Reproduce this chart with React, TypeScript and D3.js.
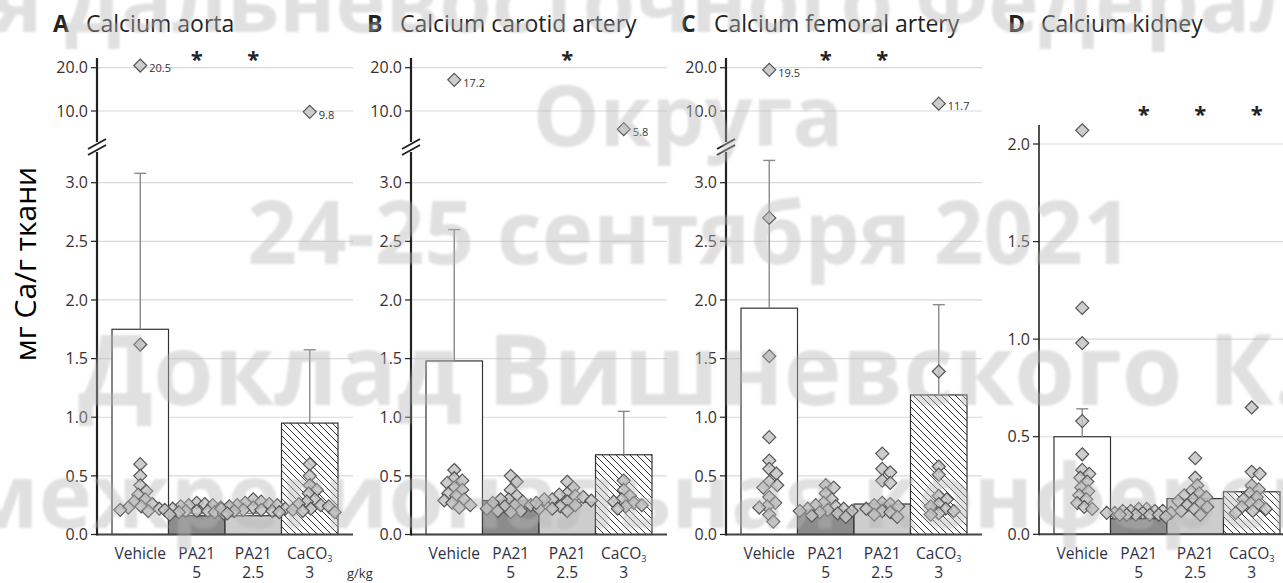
import React from "react";
import * as d3 from "d3";

// ---------- data ----------
const groups = ["Vehicle", "PA21 5", "PA21 2.5", "CaCO3 3"];
const groupLine1 = ["Vehicle", "PA21", "PA21", "CaCO"];
const groupLine2 = ["", "5", "2.5", "3"];
const panelLetters = ["A", "B", "C", "D"];
const panelTitles = ["Calcium aorta", "Calcium carotid artery", "Calcium femoral artery", "Calcium kidney"];
const lowerTicks = [0, 0.5, 1.0, 1.5, 2.0, 2.5, 3.0];
const upperTicks = [10, 20];
const kidneyTicks = [0, 0.5, 1.0, 1.5, 2.0];
const yLabel = "мг Ca/г ткани";
const unitLabel = "g/kg";
const watermarkLines = [
  "я дальневосточного Федерального",
  "Округа",
  "24-25 сентября 2021",
  "Доклад Вишневского К.",
  "межрегиональная конференция",
];

// A: aorta
const aortaMeans = [1.75, 0.16, 0.16, 0.95];
const aortaUpper = [3.08, 0.18, 0.18, 1.575];
const aortaSig = [false, true, true, false];
const aortaVehicle = [20.5, 1.62, 0.6, 0.5, 0.42, 0.37, 0.34, 0.3, 0.28, 0.26, 0.24, 0.23, 0.22, 0.21, 0.2];
const aortaPA5 = [0.27, 0.26, 0.25, 0.25, 0.24, 0.23, 0.22, 0.22, 0.21, 0.2, 0.2, 0.19, 0.19, 0.18, 0.17, 0.2];
const aortaPA25 = [0.3, 0.28, 0.27, 0.26, 0.25, 0.24, 0.23, 0.22, 0.22, 0.21, 0.2, 0.2, 0.19, 0.18, 0.25, 0.21];
const aortaCaCO3 = [9.8, 0.6, 0.5, 0.42, 0.38, 0.35, 0.3, 0.28, 0.26, 0.25, 0.24, 0.22, 0.21, 0.2, 0.19];

// B: carotid artery
const carotidMeans = [1.48, 0.29, 0.275, 0.68];
const carotidUpper = [2.6, 0.31, 0.3, 1.05];
const carotidSig = [false, false, true, false];
const carotidVehicle = [17.2, 0.55, 0.48, 0.46, 0.44, 0.4, 0.38, 0.35, 0.33, 0.3, 0.29, 0.27, 0.25, 0.23];
const carotidPA5 = [0.5, 0.45, 0.38, 0.33, 0.3, 0.3, 0.28, 0.27, 0.25, 0.25, 0.24, 0.22, 0.22, 0.2, 0.2, 0.19];
const carotidPA25 = [0.45, 0.4, 0.35, 0.34, 0.33, 0.32, 0.3, 0.3, 0.29, 0.28, 0.27, 0.25, 0.24, 0.22, 0.2];
const carotidCaCO3 = [5.8, 0.46, 0.38, 0.33, 0.3, 0.28, 0.27, 0.25, 0.24, 0.22];

// C: femoral artery
const femoralMeans = [1.93, 0.21, 0.26, 1.19];
const femoralUpper = [3.19, 0.23, 0.28, 1.96];
const femoralSig = [false, true, true, false];
const femoralVehicle = [19.5, 2.7, 1.52, 0.83, 0.63, 0.56, 0.52, 0.45, 0.42, 0.4, 0.32, 0.27, 0.24, 0.23, 0.17, 0.11];
const femoralPA5 = [0.42, 0.4, 0.35, 0.3, 0.27, 0.25, 0.24, 0.22, 0.22, 0.21, 0.2, 0.2, 0.19, 0.18, 0.16, 0.15];
const femoralPA25 = [0.69, 0.56, 0.53, 0.46, 0.44, 0.27, 0.26, 0.25, 0.24, 0.22, 0.2, 0.19, 0.17, 0.15];
const femoralCaCO3 = [11.7, 1.39, 0.58, 0.51, 0.33, 0.3, 0.26, 0.24, 0.22, 0.2, 0.18, 0.17];

// D: kidney
const kidneyMeans = [0.5, 0.08, 0.183, 0.218];
const kidneyUpper = [0.643, 0.09, 0.2, 0.24];
const kidneySig = [false, true, true, true];
const kidneyVehicle = [2.07, 1.16, 0.98, 0.58, 0.41, 0.33, 0.31, 0.29, 0.27, 0.24, 0.22, 0.2, 0.18, 0.16, 0.14, 0.13];
const kidneyPA5 = [0.13, 0.13, 0.12, 0.12, 0.12, 0.12, 0.11, 0.11, 0.11, 0.11, 0.1, 0.1, 0.1, 0.1, 0.1, 0.09];
const kidneyPA25 = [0.39, 0.29, 0.25, 0.22, 0.21, 0.2, 0.19, 0.18, 0.17, 0.16, 0.15, 0.14, 0.13, 0.12, 0.1];
const kidneyCaCO3 = [0.65, 0.32, 0.31, 0.25, 0.23, 0.21, 0.19, 0.18, 0.16, 0.15, 0.14, 0.13, 0.12, 0.11];

// ---------- layout ----------
const W = 1283;
const H = 583;
const FONT = "'Open Sans', 'DejaVu Sans', sans-serif";
const axisXs = [97, 411, 726, 1039];
const titleXs = [53, 367, 681, 1008];
const BREAK_LIMIT = 3.3;

const yLowerBroken = d3.scaleLinear().domain([0, 3]).range([534.5, 182.7]);
const yUpperBroken = d3.scaleLinear().domain([10, 20]).range([111, 67.7]);
const yKidney = d3.scaleLinear().domain([0, 2]).range([534.3, 144]);

const panels = [
  { means: aortaMeans, upper: aortaUpper, sig: aortaSig, points: [aortaVehicle, aortaPA5, aortaPA25, aortaCaCO3], broken: true },
  { means: carotidMeans, upper: carotidUpper, sig: carotidSig, points: [carotidVehicle, carotidPA5, carotidPA25, carotidCaCO3], broken: true },
  { means: femoralMeans, upper: femoralUpper, sig: femoralSig, points: [femoralVehicle, femoralPA5, femoralPA25, femoralCaCO3], broken: true },
  { means: kidneyMeans, upper: kidneyUpper, sig: kidneySig, points: [kidneyVehicle, kidneyPA5, kidneyPA25, kidneyCaCO3], broken: false },
];

const barFills = ["#ffffff", "#8c8c8c", "#cdcdcd", "url(#hatch)"];

function swarm(values: number[], yFn: (v: number) => number, cx: number, minDist: number, maxDx: number) {
  const sorted = [...values].sort((a, b) => b - a);
  const placed: { x: number; y: number; v: number }[] = [];
  const cands: number[] = [0];
  for (let k = 1; k <= maxDx; k++) cands.push(k, -k);
  for (const v of sorted) {
    const y = yFn(v);
    let best = 0;
    let bestD = -1;
    for (const dx of cands) {
      const x = cx + dx;
      let md = Infinity;
      for (const p of placed) {
        const d = Math.hypot(p.x - x, p.y - y);
        if (d < md) md = d;
      }
      if (md >= minDist) {
        best = dx;
        bestD = md;
        break;
      }
      if (md > bestD + 0.01) {
        bestD = md;
        best = dx;
      }
    }
    placed.push({ x: cx + best, y, v });
  }
  return placed;
}

const diamond = "M0,-6.5L6.5,0L0,6.5L-6.5,0Z";

function Panel({ idx }: { idx: number }) {
  const p = panels[idx];
  const ax = axisXs[idx];
  const x = d3.scaleBand<string>().domain(groups).range([ax + 15, ax + 241]).paddingInner(0).paddingOuter(0);
  const gridEnd = idx === 3 ? W : ax + 256;
  const yLow = p.broken ? yLowerBroken : yKidney;
  const yVal = (v: number) => (p.broken && v > BREAK_LIMIT ? yUpperBroken(v) : yLow(v));
  const ticks = p.broken ? lowerTicks : kidneyTicks;
  const axisTop = p.broken ? 58 : 125;
  const starY = p.broken ? 67 : 122;
  const starDx = p.broken ? 0 : 5;
  const y0 = yLow(0);
  const bw = x.bandwidth();

  return (
    <g>
      {ticks.map((t) => (
        <line key={"g" + t} x1={ax} x2={gridEnd} y1={yLow(t)} y2={yLow(t)} stroke="#d9d9d9" strokeWidth={1.2} />
      ))}
      {p.broken &&
        upperTicks.map((t) => (
          <line key={"gu" + t} x1={ax} x2={gridEnd} y1={yUpperBroken(t)} y2={yUpperBroken(t)} stroke="#d9d9d9" strokeWidth={1.2} />
        ))}
      {groups.map((g, i) => (
        <rect
          key={"b" + g}
          x={x(g)!}
          y={yLow(p.means[i])}
          width={bw}
          height={y0 - yLow(p.means[i])}
          fill={barFills[i]}
          stroke="#333"
          strokeWidth={1.2}
        />
      ))}
      {groups.map((g, i) => {
        const cx = x(g)! + bw / 2;
        return (
          <g key={"e" + g} stroke="#8a8a8a" strokeWidth={1.4}>
            <line x1={cx} x2={cx} y1={yLow(p.means[i])} y2={yLow(p.upper[i])} />
            <line x1={cx - 6} x2={cx + 6} y1={yLow(p.upper[i])} y2={yLow(p.upper[i])} />
          </g>
        );
      })}
      <line x1={ax} x2={gridEnd} y1={y0} y2={y0} stroke="#444" strokeWidth={2} />
      <line x1={ax} x2={ax} y1={axisTop} y2={y0 + 1} stroke="#222" strokeWidth={p.broken ? 2.2 : 1.6} />
      {ticks.map((t) => (
        <g key={"t" + t}>
          <line x1={ax - 6} x2={ax} y1={yLow(t)} y2={yLow(t)} stroke="#222" strokeWidth={1.2} />
          <text x={ax - 9} y={yLow(t)} dy="0.36em" textAnchor="end" fontSize={16} fill="#3a3030" fontFamily={FONT}>
            {d3.format(".1f")(t)}
          </text>
        </g>
      ))}
      {p.broken &&
        upperTicks.map((t) => (
          <g key={"tu" + t}>
            <line x1={ax - 6} x2={ax} y1={yUpperBroken(t)} y2={yUpperBroken(t)} stroke="#222" strokeWidth={1.2} />
            <text x={ax - 9} y={yUpperBroken(t)} dy="0.36em" textAnchor="end" fontSize={16} fill="#3a3030" fontFamily={FONT}>
              {d3.format(".1f")(t)}
            </text>
          </g>
        ))}
      {p.broken && (
        <g>
          <rect x={ax - 3} y={142} width={6} height={10} fill="#fff" />
          <line x1={ax - 9} y1={149} x2={ax + 9} y2={139} stroke="#222" strokeWidth={2} />
          <line x1={ax - 9} y1={155} x2={ax + 9} y2={145} stroke="#222" strokeWidth={2} />
        </g>
      )}
      {groups.map((g, i) => {
        const cx = x(g)! + bw / 2;
        const pts = swarm(p.points[i], yVal, cx, 8, bw / 2 + 4);
        return (
          <g key={"p" + g}>
            {pts.map((pt, j) => (
              <g key={j}>
                <path
                  d={diamond}
                  transform={`translate(${pt.x},${pt.y})`}
                  fill="#c4c4c4"
                  fillOpacity={0.85}
                  stroke="#555"
                  strokeWidth={1.2}
                />
                {p.broken && pt.v > BREAK_LIMIT && (
                  <text x={pt.x + 9} y={pt.y + 3} dy="0.35em" fontSize={11} fill="#333" fontFamily={FONT}>
                    {d3.format(".1f")(pt.v)}
                  </text>
                )}
              </g>
            ))}
          </g>
        );
      })}
      {groups.map((g, i) =>
        p.sig[i] ? (
          <text key={"s" + g} x={x(g)! + bw / 2 + starDx} y={starY} textAnchor="middle" fontSize={22} fontWeight={700} fill="#222" fontFamily={FONT}>
            *
          </text>
        ) : null
      )}
      {groups.map((g, i) => {
        const cx = x(g)! + bw / 2;
        return (
          <g key={"l" + g} fontFamily={FONT} fontSize={15.5} fill="#2f2f45">
            <text x={cx} y={559} textAnchor="middle">
              {groupLine1[i]}
              {i === 3 && (
                <tspan fontSize={9} dy={3}>
                  3
                </tspan>
              )}
            </text>
            {groupLine2[i] && (
              <text x={cx} y={578} textAnchor="middle">
                {groupLine2[i]}
              </text>
            )}
          </g>
        );
      })}
      {idx === 0 && (
        <text x={ax + 250} y={578} fontSize={13} fill="#2f2f45" fontFamily={FONT}>
          {unitLabel}
        </text>
      )}
      <text x={titleXs[idx]} y={32} fontFamily={FONT} fontWeight={700} fontSize={23} fill="#222">
        {panelLetters[idx]}
      </text>
      <text x={titleXs[idx] + 33} y={32} fontFamily={FONT} fontSize={23} fill="#222">
        {panelTitles[idx]}
      </text>
    </g>
  );
}

export default function App() {
  const wmX = [-8, 688, 690, 690, 736];
  const wmAnchor = ["start", "middle", "middle", "middle", "middle"];
  const wmY = [32, 146, 264, 405, 528];
  const wmSize = [85, 84, 87, 98, 90];
  return (
    <svg
      width={W}
      height={H}
      viewBox={`0 0 ${W} ${H}`}
      style={{ position: "absolute", left: 0, top: 0, display: "block", background: "#fff" }}
    >
      <defs>
        <pattern id="hatch" patternUnits="userSpaceOnUse" width={7} height={7}>
          <rect width={7} height={7} fill="#fff" />
          <path d="M-1,-1L8,8M-1,6L1,8M6,-1L8,1" stroke="#333" strokeWidth={1} />
        </pattern>
        <filter id="soft" x="-5%" y="-5%" width="110%" height="110%">
          <feGaussianBlur stdDeviation={1.2} />
        </filter>
      </defs>
      <rect width={W} height={H} fill="#fff" />
      {panels.map((_, i) => (
        <Panel key={i} idx={i} />
      ))}
      <text transform={`translate(36,264) rotate(-90)`} textAnchor="middle" fontSize={30} fontFamily={FONT} fill="#000">
        {yLabel}
      </text>
      <g filter="url(#soft)" pointerEvents="none">
        {watermarkLines.map((t, i) => (
          <text
            key={i}
            x={wmX[i]}
            y={wmY[i]}
            textAnchor={wmAnchor[i]}
            fontSize={wmSize[i]}
            fontWeight={700}
            fontFamily={FONT}
            fill="#b4b4b4"
            fillOpacity={0.42}
          >
            {t}
          </text>
        ))}
      </g>
    </svg>
  );
}
